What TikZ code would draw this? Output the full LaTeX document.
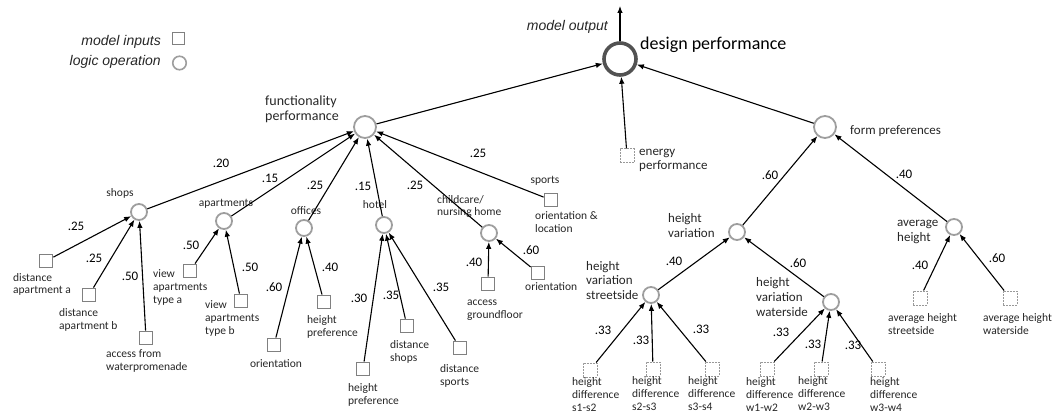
\documentclass[tikz,border=0pt]{standalone}
\usepackage{fontspec}
\setmainfont{Carlito}
\newfontfamily\arialf{Liberation Sans}
\usetikzlibrary{arrows.meta}
\newcommand\fsz[2]{\fontsize{#1}{#2}\selectfont}
\tikzset{
  lg/.style={circle, draw=black!38, line width=1.8pt, minimum size=16pt, inner sep=0pt},
  lgm/.style={lg, minimum size=22pt},
  lgt/.style={circle, draw=black!68, line width=3.6pt, minimum size=32pt, inner sep=0pt},
  inp/.style={rectangle, draw=black!50, line width=1.3pt, minimum size=13.5pt, inner sep=0pt},
  inpd/.style={rectangle, draw=black!40, line width=1pt, dash pattern=on 2pt off 1pt, minimum size=14pt, inner sep=0pt},
  lbl/.style={font=\fsz{11.5}{13}, align=left, inner sep=0pt, text=black!85},
  lblm/.style={lbl, font=\fsz{13}{14.5}},
  wt/.style={font=\fsz{13}{15}, inner sep=0pt},
  arr/.style={-{Latex[length=7pt,width=5.5pt]}, line width=1.1pt, black},
  leg/.style={font=\arialf\itshape\fsz{14}{16}, inner sep=0pt, text=black!85},
}
\begin{document}
\begin{tikzpicture}[x=1pt,y=-1pt]
\useasboundingbox (0,0) rectangle (1055,414);
% legend
\node[leg, anchor=east] (tin) at (161,42) {model inputs};
\node[inp, minimum size=12pt] (lsq) at (178.5,38.5) {};
\node[leg, anchor=east] (tlo) at (161,62) {logic operation};
\node[lg, minimum size=13.5pt, line width=1.6pt] (lci) at (179.5,63) {};
% top
\node[lgt] (dp) at (620,59) {};
\node[font=\fsz{18}{20}, anchor=base west, inner sep=0pt] (dpl) at (640,50) {design performance};
\coordinate (mo) at (620,6);
\draw[arr] (dp) -- (mo);
\node[leg, anchor=east] (mol) at (608,27) {model output};
% second level
\node[lgm] (fp) at (365,127) {};
\node[lbl, font=\fsz{14}{15}, anchor=base west] (fpl) at (265,121) {functionality\\performance};
\node[lgm] (fo) at (825,127) {};
\node[lblm, anchor=base west] (fol) at (850,134.5) {form preferences};
\node[inpd] (en) at (627,156) {};
\node[lblm, anchor=base west] (enl) at (639,170) {energy\\performance};
\draw[arr] (fp) -- (dp);
\draw[arr] (fo) -- (dp);
\draw[arr] (en) -- (dp);
% functionality children
\node[lg] (sh) at (139,212) {};
\node[lbl, anchor=base] (shl) at (120,197) {shops};
\node[lg] (ap) at (224,221) {};
\node[lbl, anchor=base] (apl) at (226,207) {apartments};
\node[lg] (of) at (304,228) {};
\node[lbl, anchor=base] (ofl) at (306,215) {offices};
\node[lg] (ho) at (384,225) {};
\node[lbl, anchor=base] (hol) at (375,209) {hotel};
\node[lg] (cc) at (489,233) {};
\node[lbl, anchor=base west] (ccl) at (437,216) {childcare/\\nursing home};
\node[inp] (sp) at (551,200) {};
\node[lbl, anchor=base] (spl) at (545,184) {sports};
\node[lbl, anchor=base west] (spl2) at (535,233) {orientation \&\\location};
\draw[arr] (sh) -- (fp);
\draw[arr] (ap) -- (fp);
\draw[arr] (of) -- (fp);
\draw[arr] (ho) -- (fp);
\draw[arr] (cc) -- (fp);
\draw[arr] (sp) -- (fp);
\node[wt] (w1) at (221,163) {.20};
\node[wt] (w2) at (270,178) {.15};
\node[wt] (w3) at (315,185) {.25};
\node[wt] (w4) at (363,186) {.15};
\node[wt] (w5) at (415,185) {.25};
\node[wt] (w6) at (478,153) {.25};
% shops children
\node[inp] (da) at (46,261) {};
\node[lbl, anchor=base west] (dal) at (13,294) {distance\\apartment a};
\node[inp] (db) at (89,295) {};
\node[lbl, anchor=base west] (dbl) at (59,329) {distance\\apartment b};
\node[inp] (aw) at (146,338) {};
\node[lbl, anchor=base west] (awl) at (106,370) {access from\\waterpromenade};
\draw[arr] (da) -- (sh);
\draw[arr] (db) -- (sh);
\draw[arr] (aw) -- (sh);
\node[wt] (w7) at (76,226) {.25};
\node[wt] (w8) at (94,258) {.25};
\node[wt] (w9) at (130,276) {.50};
% apartments children
\node[inp] (va) at (190,271) {};
\node[lbl, anchor=base west] (val) at (153,303) {view\\apartments\\type a};
\node[inp] (vb) at (241,301) {};
\node[lbl, anchor=base west] (vbl) at (205,334) {view\\apartments\\type b};
\draw[arr] (va) -- (ap);
\draw[arr] (vb) -- (ap);
\node[wt] (w10) at (191,245) {.50};
\node[wt] (w11) at (250,267) {.50};
% offices children
\node[inp] (oo) at (274,345) {};
\node[lbl, anchor=base] (ool) at (276,367) {orientation};
\node[inp] (oh) at (324,302) {};
\node[lbl, anchor=base west] (ohl) at (307,336) {height\\preference};
\draw[arr] (oo) -- (of);
\draw[arr] (oh) -- (of);
\node[wt] (w12) at (274,287) {.60};
\node[wt] (w13) at (330,267) {.40};
% hotel children
\node[inp] (hh) at (363,369) {};
\node[lbl, anchor=base west] (hhl) at (348,404) {height\\preference};
\node[inp] (hs) at (407,326) {};
\node[lbl, anchor=base west] (hsl) at (390,361) {distance\\shops};
\node[inp] (hp) at (460,348) {};
\node[lbl, anchor=base west] (hpl) at (440,385) {distance\\sports};
\draw[arr] (hh) -- (ho);
\draw[arr] (hs) -- (ho);
\draw[arr] (hp) -- (ho);
\node[wt] (w14) at (359,298) {.30};
\node[wt] (w15) at (391,295) {.35};
\node[wt] (w16) at (441,287) {.35};
% childcare children
\node[inp] (ca) at (488,284) {};
\node[lbl, anchor=base west] (cal) at (467,318) {access\\groundfloor};
\node[inp] (co) at (538,273) {};
\node[lbl, anchor=base west] (col) at (525,290) {orientation};
\draw[arr] (ca) -- (cc);
\draw[arr] (co) -- (cc);
\node[wt] (w17) at (474,262) {.40};
\node[wt] (w18) at (531,250) {.60};
% form preferences children
\node[lg] (hv) at (737,232) {};
\node[lblm, anchor=base west] (hvl) at (668,237) {height\\variation};
\node[lg] (ah) at (954,227) {};
\node[lblm, anchor=base west] (ahl) at (897,241) {average\\height};
\draw[arr] (hv) -- (fo);
\draw[arr] (ah) -- (fo);
\node[wt] (w19) at (770,175) {.60};
\node[wt] (w20) at (904,174) {.40};
% height variation children
\node[lg] (vs) at (651,295) {};
\node[lblm, anchor=base west] (vsl) at (586,299) {height\\variation\\streetside};
\node[lg] (vw) at (831,302) {};
\node[lblm, anchor=base west] (vwl) at (756,316) {height\\variation\\waterside};
\draw[arr] (vs) -- (hv);
\draw[arr] (vw) -- (hv);
\node[wt] (w21) at (674,261) {.40};
\node[wt] (w22) at (798,263) {.60};
% streetside children
\node[inpd] (s1) at (590,370) {};
\node[lbl, anchor=base west] (s1l) at (572,411) {height\\difference\\s1-s2};
\node[inpd] (s2) at (653,369) {};
\node[lbl, anchor=base west] (s2l) at (632,410) {height\\difference\\s2-s3};
\node[inpd] (s3) at (712,369) {};
\node[lbl, anchor=base west] (s3l) at (688,410) {height\\difference\\s3-s4};
\draw[arr] (s1) -- (vs);
\draw[arr] (s2) -- (vs);
\draw[arr] (s3) -- (vs);
\node[wt] (w23) at (603,330) {.33};
\node[wt] (w24) at (641,340) {.33};
\node[wt] (w25) at (701,329) {.33};
% waterside children
\node[inpd] (t1) at (767,369) {};
\node[lbl, anchor=base west] (t1l) at (746,411) {height\\difference\\w1-w2};
\node[inpd] (t2) at (821,369) {};
\node[lbl, anchor=base west] (t2l) at (798,410) {height\\difference\\w2-w3};
\node[inpd] (t3) at (878,369) {};
\node[lbl, anchor=base west] (t3l) at (870,411) {height\\difference\\w3-w4};
\draw[arr] (t1) -- (vw);
\draw[arr] (t2) -- (vw);
\draw[arr] (t3) -- (vw);
\node[wt] (w26) at (781,332) {.33};
\node[wt] (w27) at (813,344) {.33};
\node[wt] (w28) at (853,345) {.33};
% average height children
\node[inpd] (as) at (920,298) {};
\node[lbl, anchor=base west] (asl) at (888,334) {average height\\streetside};
\node[inpd] (aw2) at (1010,298) {};
\node[lbl, anchor=base west] (aw2l) at (983,334) {average height\\waterside};
\draw[arr] (as) -- (ah);
\draw[arr] (aw2) -- (ah);
\node[wt] (w29) at (920,265) {.40};
\node[wt] (w30) at (997,258) {.60};
\end{tikzpicture}
\end{document}
